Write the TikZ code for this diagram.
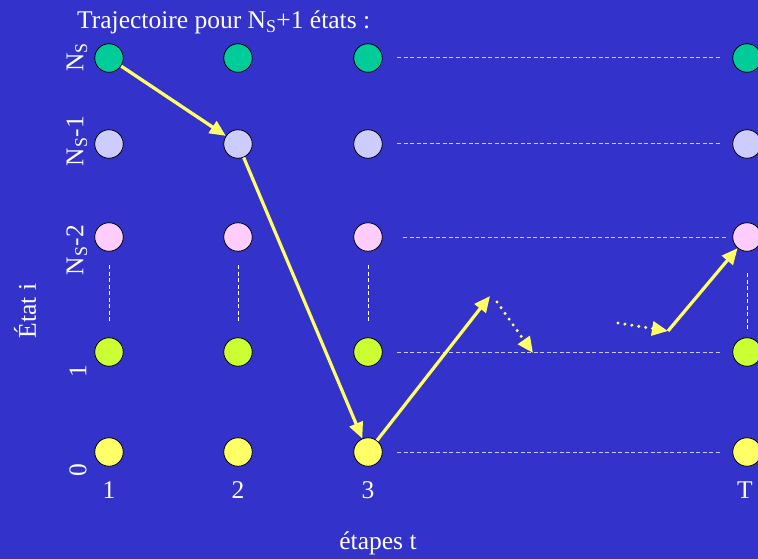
\documentclass[tikz,border=0pt]{standalone}
\usepackage{fontspec}
\setmainfont{Liberation Serif}
\usetikzlibrary{arrows.meta,calc}
\definecolor{bg}{RGB}{51,51,204}
\definecolor{cgreen}{RGB}{0,204,153}
\definecolor{clav}{RGB}{204,204,255}
\definecolor{cpink}{RGB}{255,204,255}
\definecolor{clime}{RGB}{204,255,51}
\definecolor{cyel}{RGB}{255,255,102}
\definecolor{dashc}{RGB}{200,200,245}
\tikzset{
  st/.style={circle,draw=black,line width=0.8pt,minimum size=28.5pt,inner sep=0pt},
  lbl/.style={text=white,font=\fontsize{25.5}{25.5}\selectfont,inner sep=0pt},
  hd/.style={draw=dashc,line width=1pt,dash pattern=on 4pt off 2.5pt},
  vd/.style={draw=white,line width=1pt,dash pattern=on 4pt off 2.5pt},
  tr/.style={draw=cyel,line width=3.2pt,-{Triangle[length=16pt,width=14pt]}},
  dt/.style={draw=cyel,line width=3.4pt,line cap=round,dash pattern=on 0pt off 7pt,
    -{Triangle[length=16pt,width=14pt,fill=cyel]}}
}
\begin{document}
\begin{tikzpicture}[x=1pt,y=-1pt]
\clip (0,0) rectangle (758,559);
\fill[bg] (0,0) rectangle (758,559);
% nodes
\foreach \c/\x in {1/109,2/238,3/368,T/747}{
  \node[st,fill=cgreen] (n4\c) at (\x,58) {};
  \node[st,fill=clav] (n3\c) at (\x,144) {};
  \node[st,fill=cpink] (n2\c) at (\x,237) {};
  \node[st,fill=clime] (n1\c) at (\x,352) {};
  \node[st,fill=cyel] (n0\c) at (\x,452) {};
}
% horizontal dashed
\coordinate (h4a) at (397,58);  \coordinate (h4b) at (720,58);
\coordinate (h3a) at (397,144); \coordinate (h3b) at (720,144);
\coordinate (h2a) at (403,237); \coordinate (h2b) at (727,237);
\coordinate (h1a) at (397,352); \coordinate (h1b) at (720,352);
\coordinate (h0a) at (397,452); \coordinate (h0b) at (720,452);
\foreach \r in {4,3,2,1,0}{\draw[hd] (h\r a) -- (h\r b);}
% vertical dashed
\foreach \c/\x/\ya/\yb in {1/109/265/323,2/238/265/323,3/368/265/323,T/747/273/330}{
  \coordinate (va\c) at (\x,\ya); \coordinate (vb\c) at (\x,\yb);
  \draw[vd] (va\c) -- (vb\c);
}
% labels
\node[lbl,anchor=base west] (title) at (77,29) {Trajectoire pour N\textsubscript{S}+1 états :};
\node[lbl,rotate=90] (l4) at (77,57) {N\textsubscript{S}};
\node[lbl,rotate=90] (l3) at (77,141) {N\textsubscript{S}-1};
\node[lbl,rotate=90] (l2) at (77,250) {N\textsubscript{S}-2};
\node[lbl,rotate=90] (l1) at (78,371) {1};
\node[lbl,rotate=90] (l0) at (78,470) {0};
\node[lbl,rotate=90] (etat) at (25,311) {État i};
\node[lbl] (t1) at (109,490) {1};
\node[lbl] (t2) at (238,490) {2};
\node[lbl] (t3) at (368,490) {3};
\node[lbl] (tT) at (745,490) {T};
\node[lbl] (etapes) at (378,543) {étapes t};
% trajectory
\coordinate (p1) at (490,296);
\coordinate (q1) at (497,302);
\coordinate (q2) at (533,353);
\coordinate (r1) at (618,323);
\coordinate (r2) at (668,331);
\draw[tr] (n41) -- (n32);
\draw[tr] (n32) -- (n03);
\draw[tr] (n03) -- (p1);
\draw[dt] (q1) -- (q2);
\draw[dt] (r1) -- (r2);
\draw[tr] (r2) -- (n2T);
\end{tikzpicture}
\end{document}
